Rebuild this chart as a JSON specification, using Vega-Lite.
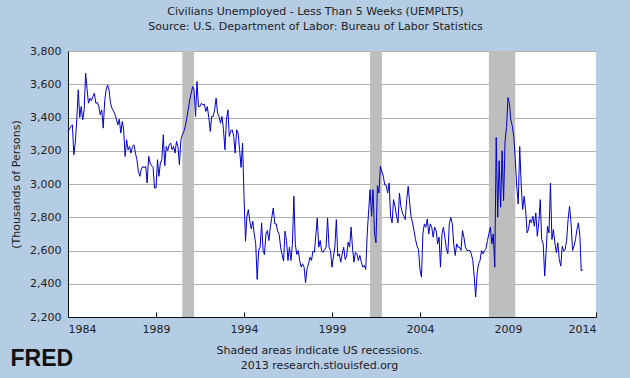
{
 "$schema": "https://vega.github.io/schema/vega-lite/v6.json",
 "width": 528,
 "height": 266,
 "autosize": {"type": "none"},
 "padding": {"left": 68, "top": 51, "right": 34, "bottom": 61},
 "background": "#B4CCE4",
 "config": {
  "font": "DejaVu Sans",
  "view": {"fill": "white", "stroke": null},
  "axis": {"labelFont": "DejaVu Sans", "titleFont": "DejaVu Sans", "labelFontSize": 11, "titleFontSize": 11, "titleFontWeight": "normal", "labelColor": "#222222", "titleColor": "#222222", "domainColor": "#111111", "tickColor": "#111111"}
 },
 "title": {"text": "FRED", "orient": "bottom", "anchor": "start", "frame": "bounds", "font": "Liberation Sans", "fontSize": 23, "fontWeight": "bold", "color": "#111111", "offset": -22},
 "resolve": {"axis": {"x": "independent"}},
 "datasets": {
  "recessions": [
   {"start": "1990-07-01", "end": "1991-03-01"},
   {"start": "2001-03-01", "end": "2001-11-01"},
   {"start": "2007-12-01", "end": "2009-06-01"}
  ],
  "series": [
   {"d":"1984-01-01","v":3316},{"d":"1984-02-01","v":3330},{"d":"1984-03-01","v":3346},{"d":"1984-04-01","v":3356},{"d":"1984-05-01","v":3176},{"d":"1984-06-01","v":3250},{"d":"1984-07-01","v":3386},{"d":"1984-08-01","v":3566},{"d":"1984-09-01","v":3400},{"d":"1984-10-01","v":3466},{"d":"1984-11-01","v":3386},{"d":"1984-12-01","v":3446},
   {"d":"1985-01-01","v":3666},{"d":"1985-02-01","v":3566},{"d":"1985-03-01","v":3486},{"d":"1985-04-01","v":3516},{"d":"1985-05-01","v":3500},{"d":"1985-06-01","v":3526},{"d":"1985-07-01","v":3546},{"d":"1985-08-01","v":3486},{"d":"1985-09-01","v":3490},{"d":"1985-10-01","v":3466},{"d":"1985-11-01","v":3416},{"d":"1985-12-01","v":3446},
   {"d":"1986-01-01","v":3336},{"d":"1986-02-01","v":3500},{"d":"1986-03-01","v":3566},{"d":"1986-04-01","v":3596},{"d":"1986-05-01","v":3566},{"d":"1986-06-01","v":3486},{"d":"1986-07-01","v":3456},{"d":"1986-08-01","v":3440},{"d":"1986-09-01","v":3420},{"d":"1986-10-01","v":3390},{"d":"1986-11-01","v":3356},{"d":"1986-12-01","v":3390},
   {"d":"1987-01-01","v":3306},{"d":"1987-02-01","v":3376},{"d":"1987-03-01","v":3326},{"d":"1987-04-01","v":3166},{"d":"1987-05-01","v":3266},{"d":"1987-06-01","v":3206},{"d":"1987-07-01","v":3226},{"d":"1987-08-01","v":3186},{"d":"1987-09-01","v":3226},{"d":"1987-10-01","v":3236},{"d":"1987-11-01","v":3186},{"d":"1987-12-01","v":3146},
   {"d":"1988-01-01","v":3076},{"d":"1988-02-01","v":3046},{"d":"1988-03-01","v":3090},{"d":"1988-04-01","v":3106},{"d":"1988-05-01","v":3096},{"d":"1988-06-01","v":3106},{"d":"1988-07-01","v":3006},{"d":"1988-08-01","v":3166},{"d":"1988-09-01","v":3126},{"d":"1988-10-01","v":3110},{"d":"1988-11-01","v":3100},{"d":"1988-12-01","v":2976},
   {"d":"1989-01-01","v":2976},{"d":"1989-02-01","v":3146},{"d":"1989-03-01","v":3046},{"d":"1989-04-01","v":3126},{"d":"1989-05-01","v":3146},{"d":"1989-06-01","v":3296},{"d":"1989-07-01","v":3110},{"d":"1989-08-01","v":3226},{"d":"1989-09-01","v":3200},{"d":"1989-10-01","v":3236},{"d":"1989-11-01","v":3246},{"d":"1989-12-01","v":3206},
   {"d":"1990-01-01","v":3226},{"d":"1990-02-01","v":3186},{"d":"1990-03-01","v":3256},{"d":"1990-04-01","v":3226},{"d":"1990-05-01","v":3116},{"d":"1990-06-01","v":3266},{"d":"1990-07-01","v":3296},{"d":"1990-08-01","v":3316},{"d":"1990-09-01","v":3346},{"d":"1990-10-01","v":3396},{"d":"1990-11-01","v":3450},{"d":"1990-12-01","v":3506},
   {"d":"1991-01-01","v":3546},{"d":"1991-02-01","v":3586},{"d":"1991-03-01","v":3566},{"d":"1991-04-01","v":3406},{"d":"1991-05-01","v":3616},{"d":"1991-06-01","v":3466},{"d":"1991-07-01","v":3466},{"d":"1991-08-01","v":3486},{"d":"1991-09-01","v":3476},{"d":"1991-10-01","v":3480},{"d":"1991-11-01","v":3436},{"d":"1991-12-01","v":3466},
   {"d":"1992-01-01","v":3400},{"d":"1992-02-01","v":3316},{"d":"1992-03-01","v":3406},{"d":"1992-04-01","v":3406},{"d":"1992-05-01","v":3446},{"d":"1992-06-01","v":3516},{"d":"1992-07-01","v":3426},{"d":"1992-08-01","v":3406},{"d":"1992-09-01","v":3366},{"d":"1992-10-01","v":3406},{"d":"1992-11-01","v":3326},{"d":"1992-12-01","v":3206},
   {"d":"1993-01-01","v":3386},{"d":"1993-02-01","v":3446},{"d":"1993-03-01","v":3286},{"d":"1993-04-01","v":3320},{"d":"1993-05-01","v":3326},{"d":"1993-06-01","v":3286},{"d":"1993-07-01","v":3186},{"d":"1993-08-01","v":3326},{"d":"1993-09-01","v":3306},{"d":"1993-10-01","v":3206},{"d":"1993-11-01","v":3100},{"d":"1993-12-01","v":3246},
   {"d":"1994-01-01","v":2926},{"d":"1994-02-01","v":2656},{"d":"1994-03-01","v":2800},{"d":"1994-04-01","v":2846},{"d":"1994-05-01","v":2776},{"d":"1994-06-01","v":2730},{"d":"1994-07-01","v":2776},{"d":"1994-08-01","v":2700},{"d":"1994-09-01","v":2640},{"d":"1994-10-01","v":2426},{"d":"1994-11-01","v":2600},{"d":"1994-12-01","v":2620},
   {"d":"1995-01-01","v":2766},{"d":"1995-02-01","v":2600},{"d":"1995-03-01","v":2576},{"d":"1995-04-01","v":2700},{"d":"1995-05-01","v":2720},{"d":"1995-06-01","v":2660},{"d":"1995-07-01","v":2740},{"d":"1995-08-01","v":2800},{"d":"1995-09-01","v":2856},{"d":"1995-10-01","v":2760},{"d":"1995-11-01","v":2760},{"d":"1995-12-01","v":2716},
   {"d":"1996-01-01","v":2696},{"d":"1996-02-01","v":2616},{"d":"1996-03-01","v":2576},{"d":"1996-04-01","v":2536},{"d":"1996-05-01","v":2716},{"d":"1996-06-01","v":2660},{"d":"1996-07-01","v":2540},{"d":"1996-08-01","v":2620},{"d":"1996-09-01","v":2540},{"d":"1996-10-01","v":2636},{"d":"1996-11-01","v":2926},{"d":"1996-12-01","v":2636},
   {"d":"1997-01-01","v":2576},{"d":"1997-02-01","v":2600},{"d":"1997-03-01","v":2540},{"d":"1997-04-01","v":2500},{"d":"1997-05-01","v":2520},{"d":"1997-06-01","v":2500},{"d":"1997-07-01","v":2406},{"d":"1997-08-01","v":2490},{"d":"1997-09-01","v":2520},{"d":"1997-10-01","v":2560},{"d":"1997-11-01","v":2540},{"d":"1997-12-01","v":2596},
   {"d":"1998-01-01","v":2590},{"d":"1998-02-01","v":2696},{"d":"1998-03-01","v":2796},{"d":"1998-04-01","v":2620},{"d":"1998-05-01","v":2660},{"d":"1998-06-01","v":2596},{"d":"1998-07-01","v":2590},{"d":"1998-08-01","v":2606},{"d":"1998-09-01","v":2620},{"d":"1998-10-01","v":2796},{"d":"1998-11-01","v":2620},{"d":"1998-12-01","v":2600},
   {"d":"1999-01-01","v":2500},{"d":"1999-02-01","v":2566},{"d":"1999-03-01","v":2620},{"d":"1999-04-01","v":2786},{"d":"1999-05-01","v":2566},{"d":"1999-06-01","v":2580},{"d":"1999-07-01","v":2530},{"d":"1999-08-01","v":2580},{"d":"1999-09-01","v":2620},{"d":"1999-10-01","v":2546},{"d":"1999-11-01","v":2566},{"d":"1999-12-01","v":2650},
   {"d":"2000-01-01","v":2620},{"d":"2000-02-01","v":2740},{"d":"2000-03-01","v":2620},{"d":"2000-04-01","v":2530},{"d":"2000-05-01","v":2590},{"d":"2000-06-01","v":2580},{"d":"2000-07-01","v":2540},{"d":"2000-08-01","v":2570},{"d":"2000-09-01","v":2530},{"d":"2000-10-01","v":2500},{"d":"2000-11-01","v":2510},{"d":"2000-12-01","v":2486},
   {"d":"2001-01-01","v":2700},{"d":"2001-02-01","v":2846},{"d":"2001-03-01","v":2966},{"d":"2001-04-01","v":2806},{"d":"2001-05-01","v":2966},{"d":"2001-06-01","v":2706},{"d":"2001-07-01","v":2646},{"d":"2001-08-01","v":2990},{"d":"2001-09-01","v":2946},{"d":"2001-10-01","v":3106},{"d":"2001-11-01","v":3076},{"d":"2001-12-01","v":3046},
   {"d":"2002-01-01","v":2994},{"d":"2002-02-01","v":2990},{"d":"2002-03-01","v":2946},{"d":"2002-04-01","v":3006},{"d":"2002-05-01","v":2806},{"d":"2002-06-01","v":2766},{"d":"2002-07-01","v":2906},{"d":"2002-08-01","v":2866},{"d":"2002-09-01","v":2806},{"d":"2002-10-01","v":2766},{"d":"2002-11-01","v":2946},{"d":"2002-12-01","v":2866},
   {"d":"2003-01-01","v":2826},{"d":"2003-02-01","v":2806},{"d":"2003-03-01","v":2786},{"d":"2003-04-01","v":2906},{"d":"2003-05-01","v":2986},{"d":"2003-06-01","v":2886},{"d":"2003-07-01","v":2800},{"d":"2003-08-01","v":2766},{"d":"2003-09-01","v":2716},{"d":"2003-10-01","v":2666},{"d":"2003-11-01","v":2626},{"d":"2003-12-01","v":2606},
   {"d":"2004-01-01","v":2486},{"d":"2004-02-01","v":2440},{"d":"2004-03-01","v":2700},{"d":"2004-04-01","v":2760},{"d":"2004-05-01","v":2740},{"d":"2004-06-01","v":2790},{"d":"2004-07-01","v":2700},{"d":"2004-08-01","v":2760},{"d":"2004-09-01","v":2740},{"d":"2004-10-01","v":2680},{"d":"2004-11-01","v":2740},{"d":"2004-12-01","v":2720},
   {"d":"2005-01-01","v":2640},{"d":"2005-02-01","v":2680},{"d":"2005-03-01","v":2500},{"d":"2005-04-01","v":2700},{"d":"2005-05-01","v":2740},{"d":"2005-06-01","v":2680},{"d":"2005-07-01","v":2610},{"d":"2005-08-01","v":2580},{"d":"2005-09-01","v":2760},{"d":"2005-10-01","v":2800},{"d":"2005-11-01","v":2760},{"d":"2005-12-01","v":2640},
   {"d":"2006-01-01","v":2570},{"d":"2006-02-01","v":2640},{"d":"2006-03-01","v":2620},{"d":"2006-04-01","v":2620},{"d":"2006-05-01","v":2600},{"d":"2006-06-01","v":2720},{"d":"2006-07-01","v":2680},{"d":"2006-08-01","v":2620},{"d":"2006-09-01","v":2600},{"d":"2006-10-01","v":2600},{"d":"2006-11-01","v":2600},{"d":"2006-12-01","v":2580},
   {"d":"2007-01-01","v":2540},{"d":"2007-02-01","v":2440},{"d":"2007-03-01","v":2320},{"d":"2007-04-01","v":2460},{"d":"2007-05-01","v":2520},{"d":"2007-06-01","v":2540},{"d":"2007-07-01","v":2600},{"d":"2007-08-01","v":2580},{"d":"2007-09-01","v":2600},{"d":"2007-10-01","v":2610},{"d":"2007-11-01","v":2660},{"d":"2007-12-01","v":2700},
   {"d":"2008-01-01","v":2740},{"d":"2008-02-01","v":2640},{"d":"2008-03-01","v":2700},{"d":"2008-04-01","v":2500},{"d":"2008-05-01","v":3280},{"d":"2008-06-01","v":2800},{"d":"2008-07-01","v":3140},{"d":"2008-08-01","v":2860},{"d":"2008-09-01","v":3200},{"d":"2008-10-01","v":2900},{"d":"2008-11-01","v":3260},{"d":"2008-12-01","v":3340},
   {"d":"2009-01-01","v":3520},{"d":"2009-02-01","v":3480},{"d":"2009-03-01","v":3386},{"d":"2009-04-01","v":3346},{"d":"2009-05-01","v":3286},{"d":"2009-06-01","v":3146},{"d":"2009-07-01","v":2986},{"d":"2009-08-01","v":2880},{"d":"2009-09-01","v":3226},{"d":"2009-10-01","v":3000},{"d":"2009-11-01","v":2846},{"d":"2009-12-01","v":2926},
   {"d":"2010-01-01","v":2846},{"d":"2010-02-01","v":2706},{"d":"2010-03-01","v":2726},{"d":"2010-04-01","v":2786},{"d":"2010-05-01","v":2766},{"d":"2010-06-01","v":2806},{"d":"2010-07-01","v":2746},{"d":"2010-08-01","v":2826},{"d":"2010-09-01","v":2686},{"d":"2010-10-01","v":2766},{"d":"2010-11-01","v":2906},{"d":"2010-12-01","v":2666},
   {"d":"2011-01-01","v":2640},{"d":"2011-02-01","v":2446},{"d":"2011-03-01","v":2586},{"d":"2011-04-01","v":2746},{"d":"2011-05-01","v":2706},{"d":"2011-06-01","v":3006},{"d":"2011-07-01","v":2666},{"d":"2011-08-01","v":2726},{"d":"2011-09-01","v":2646},{"d":"2011-10-01","v":2586},{"d":"2011-11-01","v":2646},{"d":"2011-12-01","v":2546},
   {"d":"2012-01-01","v":2506},{"d":"2012-02-01","v":2626},{"d":"2012-03-01","v":2596},{"d":"2012-04-01","v":2606},{"d":"2012-05-01","v":2660},{"d":"2012-06-01","v":2786},{"d":"2012-07-01","v":2866},{"d":"2012-08-01","v":2766},{"d":"2012-09-01","v":2600},{"d":"2012-10-01","v":2626},{"d":"2012-11-01","v":2666},{"d":"2012-12-01","v":2726},
   {"d":"2013-01-01","v":2766},{"d":"2013-02-01","v":2686},{"d":"2013-03-01","v":2476},{"d":"2013-04-01","v":2486}
  ]
 },
 "layer": [
  {
   "data": {"name": "recessions"},
   "mark": {"type": "rect", "color": "#BEBEBE"},
   "encoding": {
    "x": {"field": "start", "type": "temporal",
     "scale": {"domain": [{"year": 1984, "month": 1, "date": 1}, {"year": 2014, "month": 1, "date": 1}]},
     "axis": {"orient": "top", "title": ["Civilians Unemployed - Less Than 5 Weeks (UEMPLT5)", "Source: U.S. Department of Labor: Bureau of Labor Statistics"], "labels": false, "ticks": false, "domain": false, "grid": false, "titlePadding": 20, "titleX": 247, "titleLineHeight": 15}},
    "x2": {"field": "end"}
   }
  },
  {
   "data": {"name": "series"},
   "mark": {"type": "line", "color": "#0000CC", "strokeWidth": 1},
   "encoding": {
    "x": {"field": "d", "type": "temporal",
     "scale": {"domain": [{"year": 1984, "month": 1, "date": 1}, {"year": 2014, "month": 1, "date": 1}]},
     "axis": {"orient": "bottom", "values": [{"year": 1984, "month": 1, "date": 1}, {"year": 1989, "month": 1, "date": 1}, {"year": 1994, "month": 1, "date": 1}, {"year": 1999, "month": 1, "date": 1}, {"year": 2004, "month": 1, "date": 1}, {"year": 2009, "month": 1, "date": 1}, {"year": 2014, "month": 1, "date": 1}], "format": "%Y", "grid": false, "tickSize": -5, "labelPadding": 11, "title": ["Shaded areas indicate US recessions.", "2013 research.stlouisfed.org"], "titlePadding": 10, "titleX": 251, "titleLineHeight": 15}},
    "y": {"field": "v", "type": "quantitative",
     "scale": {"domain": [2200, 3800], "nice": false, "zero": false},
     "axis": {"values": [2200, 2400, 2600, 2800, 3000, 3200, 3400, 3600, 3800], "format": ",.0f", "ticks": false, "labelPadding": 7, "grid": true, "gridColor": "#B0B0B0", "title": "(Thousands of Persons)", "titlePadding": 8}}
   }
  }
 ]
}
